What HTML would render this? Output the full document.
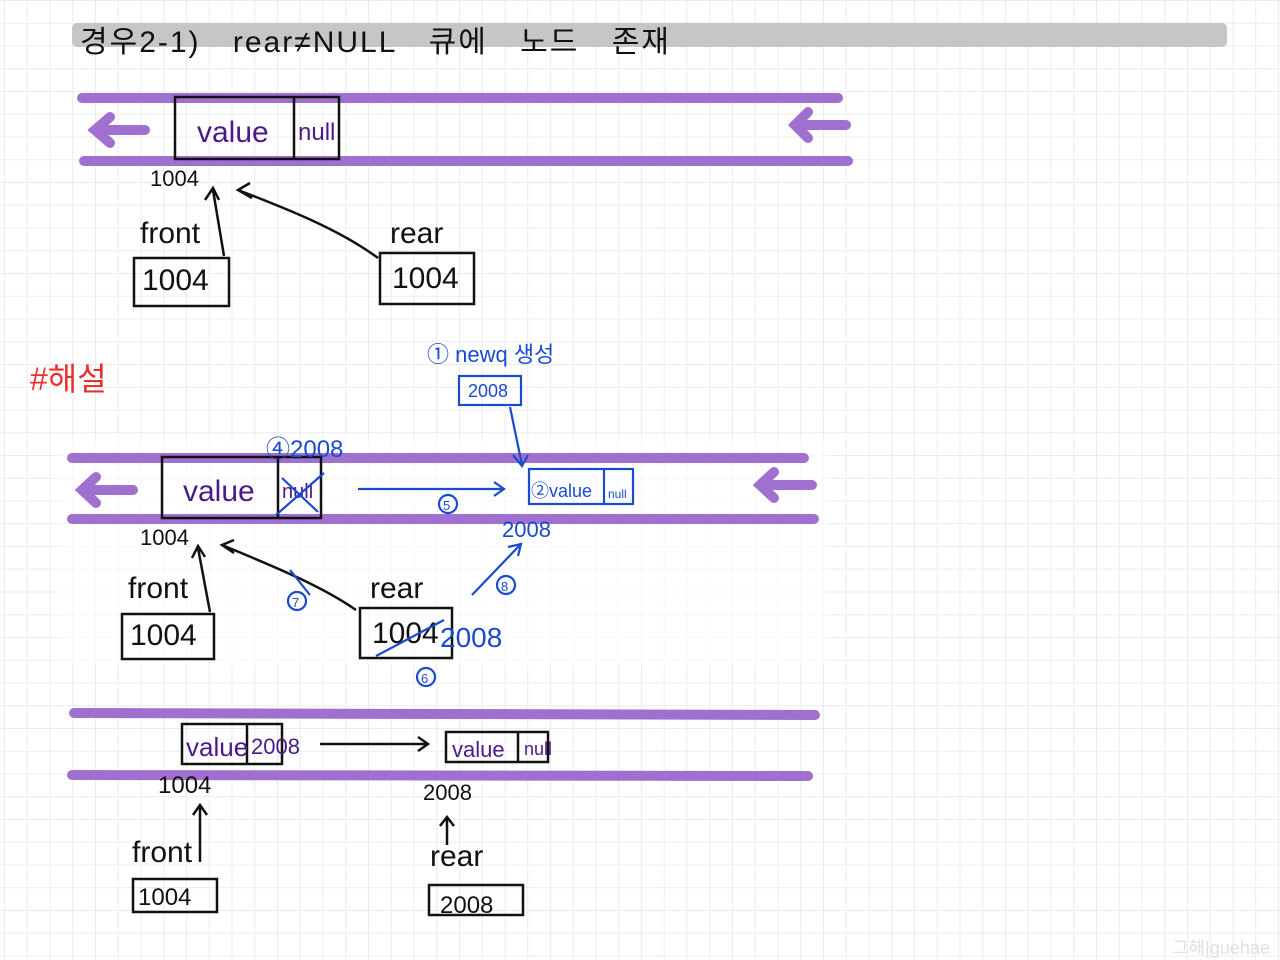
<!DOCTYPE html>
<html><head><meta charset="utf-8"><style>
body{margin:0;width:1280px;height:960px;overflow:hidden;background:#fff;
background-image:linear-gradient(#ececec 1px,transparent 1px),linear-gradient(90deg,#ececec 1px,transparent 1px);
background-size:22.75px 22.75px;background-position:4px 0;}
svg{position:absolute;left:0;top:0}
text{font-family:"Liberation Sans","Noto Sans CJK KR",sans-serif}
</style></head><body>
<svg width="1280" height="960">
<rect x="58" y="440" width="770" height="225" fill="#fff" opacity="0.6"/>
<rect x="72" y="23" width="1155" height="24" rx="5" fill="#c6c6c6"/>
<text x="80" y="52" font-size="30" fill="#111" letter-spacing="2" word-spacing="22">경우2-1) rear≠NULL 큐에 노드 존재</text>
<g stroke="#a070d0" stroke-width="10" stroke-linecap="round" fill="none">
<line x1="82" y1="98" x2="838" y2="98"/><line x1="84" y1="161" x2="848" y2="161"/>
<line x1="72" y1="458" x2="804" y2="458"/><line x1="72" y1="519" x2="814" y2="519"/>
<line x1="74" y1="713" x2="815" y2="715"/><line x1="72" y1="775" x2="808" y2="776"/>
<path d="M145 130H95M110 117L95 130L110 143"/><path d="M846 125H795M808 112L795 125L808 138"/>
<path d="M133 490H82M96 477L82 490L96 503"/><path d="M812 485H760M774 472L760 485L774 498"/>
</g>
<g fill="none" stroke="#111" stroke-width="2.5">
<rect x="175" y="97" width="164" height="62"/><line x1="294" y1="97" x2="294" y2="159"/>
<rect x="134" y="258" width="95" height="48"/><rect x="380" y="253" width="94" height="51"/>
<rect x="162" y="457" width="159" height="61"/><line x1="278" y1="457" x2="278" y2="518"/>
<rect x="122" y="614" width="92" height="45"/><rect x="360" y="608" width="92" height="50"/>
<rect x="182" y="724" width="100" height="40"/><line x1="247" y1="724" x2="247" y2="764"/>
<rect x="446" y="732" width="102" height="30"/><line x1="518" y1="732" x2="518" y2="762"/>
<rect x="133" y="879" width="84" height="33"/><rect x="429" y="885" width="94" height="30"/>
<path d="M224 256L213 190M205 200L213 188L219 200"/>
<path d="M378 258C340 230 290 210 238 190M250 183L238 190L252 198"/>
<path d="M210 612L198 548M192 558L198 546L205 557"/>
<path d="M356 610C320 585 270 565 222 545M234 540L222 545L234 553"/>
<path d="M320 744H428M418 737L428 744L418 751"/>
<path d="M200 862V806M193 815L200 805L207 815"/>
<path d="M447 845V818M440 826L447 817L454 826"/>
</g>
<g font-size="30" fill="#111">
<text x="150" y="186" font-size="22">1004</text><text x="140" y="243">front</text><text x="390" y="243">rear</text>
<text x="142" y="290">1004</text><text x="392" y="288">1004</text>
<text x="140" y="545" font-size="22">1004</text><text x="128" y="598">front</text><text x="370" y="598">rear</text>
<text x="130" y="645">1004</text><text x="372" y="643">1004</text>
<text x="158" y="793" font-size="24">1004</text><text x="132" y="862">front</text>
<text x="138" y="905" font-size="24">1004</text>
<text x="423" y="800" font-size="22">2008</text><text x="430" y="866">rear</text>
<text x="440" y="913" font-size="24">2008</text>
</g>
<g fill="#4a1a8a">
<text x="197" y="142" font-size="30">value</text><text x="298" y="140" font-size="24">null</text>
<text x="183" y="501" font-size="30">value</text><text x="282" y="498" font-size="20">null</text>
<text x="186" y="756" font-size="26">value</text><text x="251" y="754" font-size="22">2008</text>
<text x="452" y="757" font-size="22">value</text><text x="524" y="755" font-size="18">null</text>
</g>
<text x="30" y="390" font-size="32" fill="#e83030">#해설</text>
<g fill="none" stroke="#1a4ad0" stroke-width="2.2">
<rect x="459" y="376" width="62" height="29"/>
<rect x="529" y="469" width="104" height="35"/><line x1="604" y1="469" x2="604" y2="504"/>
<path d="M510 407L522 465M513 455L522 466L528 455"/>
<path d="M358 489H504M494 482L504 489L494 496"/>
<path d="M472 595L520 545M508 547L521 544L518 556"/>
<path d="M276 515L324 473M282 478L318 512"/>
<path d="M376 656L444 620"/><path d="M290 570L310 595"/>
<circle cx="448" cy="504" r="9"/><circle cx="506" cy="585" r="9"/><circle cx="297" cy="601" r="9"/><circle cx="426" cy="677" r="9"/>
</g>
<g fill="#1a4ad0">
<text x="427" y="362" font-size="22">① newq 생성</text>
<text x="468" y="397" font-size="18">2008</text>
<text x="266" y="457" font-size="24">④2008</text>
<text x="531" y="497" font-size="18">②value</text><text x="608" y="498" font-size="12">null</text>
<text x="440" y="647" font-size="28">2008</text><text x="502" y="537" font-size="22">2008</text>
<text x="443" y="510" font-size="13">5</text><text x="501" y="591" font-size="13">8</text><text x="292" y="607" font-size="13">7</text><text x="421" y="683" font-size="13">6</text>
</g>
<text x="1172" y="954" font-size="18" fill="#e0e0e0">그해|guehae</text>
</svg>
</body></html>
